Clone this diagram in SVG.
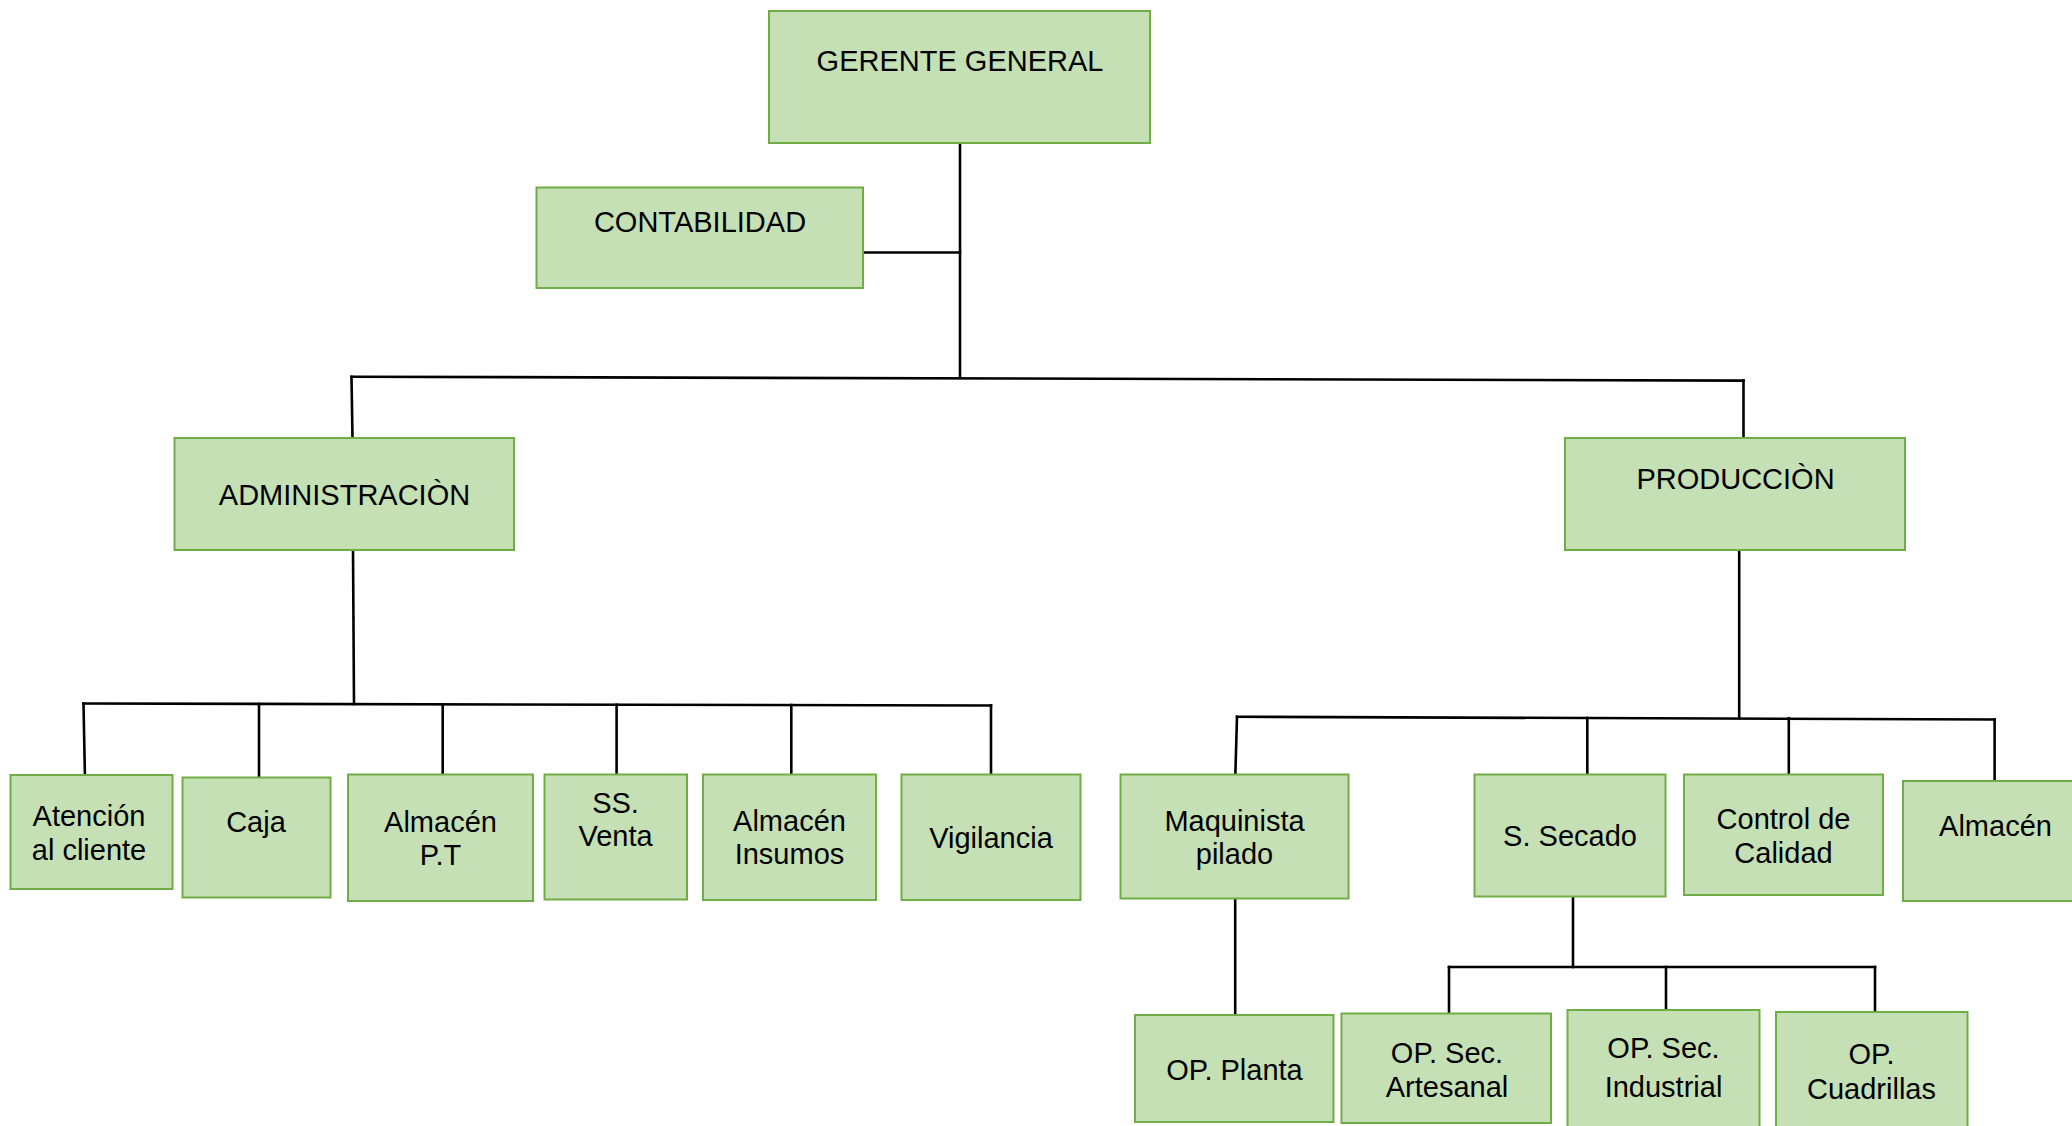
<svg xmlns="http://www.w3.org/2000/svg" width="2072" height="1126" viewBox="0 0 2072 1126">
  <style>
    .box { fill: #C5E0B4; stroke: #70AD47; stroke-width: 2; }
    .lbl { font-family: "Liberation Sans", Arial, sans-serif; font-size: 29px; fill: #000; text-anchor: middle; }
    .con { fill: none; stroke: #000; stroke-width: 2.6; stroke-linecap: square; }
  </style>
  <rect width="2072" height="1126" fill="#fff"/>

  <g id="connectors">
    <path class="con" d="M960 143 V377.5"/>
    <path class="con" d="M864 252.5 H960"/>
    <path class="con" d="M351.5 376.7 L1743.5 380.6"/>
    <path class="con" d="M351.5 376.7 L352.5 438"/>
    <path class="con" d="M1743.5 380.6 V438"/>
    <path class="con" d="M353 550 L354 704"/>
    <path class="con" d="M83.5 703.5 L991 705.5"/>
    <path class="con" d="M83.5 703.5 L85 780"/>
    <path class="con" d="M259 704 V777.5"/>
    <path class="con" d="M442.7 704.3 V776.5"/>
    <path class="con" d="M616.6 704.7 V774.5"/>
    <path class="con" d="M791.3 705 V774.5"/>
    <path class="con" d="M991 705.5 V774.5"/>
    <path class="con" d="M1739.2 550 V718"/>
    <path class="con" d="M1237 716.8 L1994.6 719.5"/>
    <path class="con" d="M1237 716.8 L1235.2 780"/>
    <path class="con" d="M1587.3 718 V778.5"/>
    <path class="con" d="M1788.8 718.2 V776.5"/>
    <path class="con" d="M1994.6 719.5 V781"/>
    <path class="con" d="M1235.2 899 V1015"/>
    <path class="con" d="M1573 898 V967"/>
    <path class="con" d="M1449 967 H1875"/>
    <path class="con" d="M1449 967 V1013.5"/>
    <path class="con" d="M1666 967 V1010"/>
    <path class="con" d="M1875 967 V1012"/>
  </g>

  <g id="gerente-general">
    <rect class="box" x="769" y="11" width="381" height="132"/>
    <text class="lbl" x="960" y="71">GERENTE GENERAL</text>
  </g>
  <g id="contabilidad">
    <rect class="box" x="536.5" y="187.5" width="326.5" height="100.5"/>
    <text class="lbl" x="700" y="232">CONTABILIDAD</text>
  </g>
  <g id="administracion">
    <rect class="box" x="174.5" y="438" width="339.5" height="112"/>
    <text class="lbl" x="344.5" y="505">ADMINISTRACIÒN</text>
  </g>
  <g id="produccion">
    <rect class="box" x="1565" y="438" width="340" height="112"/>
    <text class="lbl" x="1735.5" y="489">PRODUCCIÒN</text>
  </g>

  <g id="atencion-cliente">
    <rect class="box" x="10.5" y="775" width="162" height="114"/>
    <text class="lbl" x="89" y="826">Atención</text>
    <text class="lbl" x="89" y="860">al cliente</text>
  </g>
  <g id="caja">
    <rect class="box" x="182.5" y="777.5" width="148" height="120"/>
    <text class="lbl" x="256" y="831.5">Caja</text>
  </g>
  <g id="almacen-pt">
    <rect class="box" x="348" y="774.5" width="185" height="126.5"/>
    <text class="lbl" x="440.5" y="831.5">Almacén</text>
    <text class="lbl" x="440.5" y="865">P.T</text>
  </g>
  <g id="ss-venta">
    <rect class="box" x="544.5" y="774.5" width="142.5" height="125"/>
    <text class="lbl" x="615.5" y="812.5">SS.</text>
    <text class="lbl" x="615.5" y="846">Venta</text>
  </g>
  <g id="almacen-insumos">
    <rect class="box" x="703" y="774.5" width="173" height="125.5"/>
    <text class="lbl" x="789.5" y="831">Almacén</text>
    <text class="lbl" x="789.5" y="864">Insumos</text>
  </g>
  <g id="vigilancia">
    <rect class="box" x="901.5" y="774.5" width="179" height="125.5"/>
    <text class="lbl" x="991" y="848">Vigilancia</text>
  </g>

  <g id="maquinista-pilado">
    <rect class="box" x="1120.5" y="774.5" width="228" height="124"/>
    <text class="lbl" x="1234.5" y="831">Maquinista</text>
    <text class="lbl" x="1234.5" y="863.5">pilado</text>
  </g>
  <g id="s-secado">
    <rect class="box" x="1474.5" y="774.5" width="191" height="122"/>
    <text class="lbl" x="1570" y="846">S. Secado</text>
  </g>
  <g id="control-calidad">
    <rect class="box" x="1684" y="774.5" width="199" height="120.5"/>
    <text class="lbl" x="1783.5" y="829">Control de</text>
    <text class="lbl" x="1783.5" y="862.5">Calidad</text>
  </g>
  <g id="almacen">
    <rect class="box" x="1903" y="781" width="184" height="120"/>
    <text class="lbl" x="1995.5" y="836">Almacén</text>
  </g>

  <g id="op-planta">
    <rect class="box" x="1135" y="1015" width="198.5" height="107"/>
    <text class="lbl" x="1234.5" y="1080">OP. Planta</text>
  </g>
  <g id="op-sec-artesanal">
    <rect class="box" x="1341.5" y="1013.5" width="209.5" height="109.5"/>
    <text class="lbl" x="1447" y="1063">OP. Sec.</text>
    <text class="lbl" x="1447" y="1097">Artesanal</text>
  </g>
  <g id="op-sec-industrial">
    <rect class="box" x="1567.5" y="1010" width="192" height="130"/>
    <text class="lbl" x="1663.5" y="1057.5">OP. Sec.</text>
    <text class="lbl" x="1663.5" y="1097">Industrial</text>
  </g>
  <g id="op-cuadrillas">
    <rect class="box" x="1776" y="1012" width="191.5" height="130"/>
    <text class="lbl" x="1871.5" y="1063.5">OP.</text>
    <text class="lbl" x="1871.5" y="1098.5">Cuadrillas</text>
  </g>
</svg>
